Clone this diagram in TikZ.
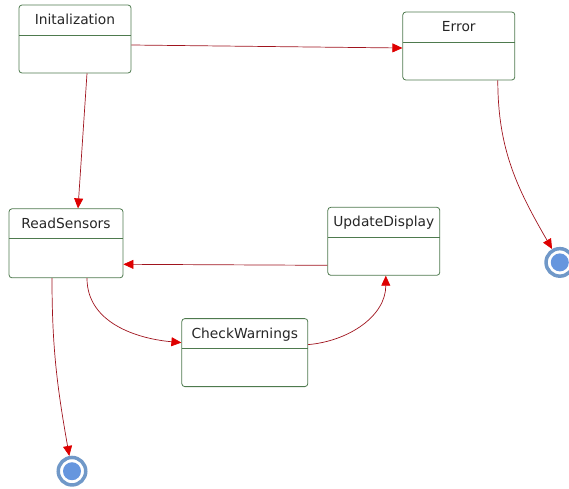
\documentclass[tikz,border=0pt]{standalone}
\usepackage{fontspec}
\setmainfont{DejaVu Sans}
\usetikzlibrary{positioning,arrows.meta}
\definecolor{stategreen}{RGB}{78,122,78}
\definecolor{linered}{RGB}{160,20,30}
\definecolor{tipred}{RGB}{222,0,0}
\definecolor{ringblue}{RGB}{112,152,200}
\definecolor{diskblue}{RGB}{102,150,222}
\tikzset{
	every node/.style={font=\fontsize{13.8}{16}\selectfont, text=black!85},
	my final/.style={circle, draw=ringblue, line width=3.5pt, minimum size=27.5pt, inner sep=0pt,
		path picture={\fill[diskblue] (path picture bounding box.center) circle (9pt);}}, % end state
}

\begin{document}
\begin{tikzpicture}[x=1pt,y=-1pt]
	\useasboundingbox (0,0) rectangle (569,488);
	\tikzset{my state/.style = {rectangle, draw=stategreen, line width=0.8pt, rounded corners=3pt,
			minimum width=112pt, inner ysep=0pt, text height=19.5pt, text depth=48.5pt,
			path picture={\draw[stategreen, line width=0.8pt] ([yshift=-30pt]path picture bounding box.north west) -- ([yshift=-30pt]path picture bounding box.north east);}}}
	\tikzset{my trans/.style = {draw=linered, line width=0.7pt, -{Triangle[length=10pt,width=9pt,color=tipred]}}}
	\node[my state] (init) at (75,39) {Initalization};
	\node[my state] (error) [right=271pt of init, yshift=-7pt] {Error};
	\node[my state, minimum width=114pt, text depth=49.5pt] (read) [below=135pt of init, xshift=-9pt] {ReadSensors};
	\node[my state] (update) [right=204pt of read, yshift=2pt] {UpdateDisplay};
	\node[my state, minimum width=126pt] (check) [below right=40pt and 58pt of read] {CheckWarnings};
	\node[my final] (endR) [below=177.5pt of read, xshift=6pt] {};
	\node[my final] (endE) [below=166.5pt of error, xshift=101pt] {};
	\draw[my trans] ([yshift=-6pt]init.east) -- ([yshift=-2pt]error.west);
	\draw[my trans] ([xshift=12pt]init.south) -- ([xshift=12pt]read.north);
	\draw[my trans] ([xshift=39pt]error.south) to[out=-90,in=120] (endE);
	\draw[my trans] ([yshift=-24pt]update.west) -- ([yshift=-21pt]read.east);
	\draw[my trans] ([xshift=21pt]read.south) to[out=-90,in=175] ([yshift=10pt]check.west);
	\draw[my trans] ([yshift=8pt]check.east) to[out=5,in=-90] ([xshift=2pt]update.south);
	\draw[my trans] ([xshift=-14pt]read.south) to[out=-90,in=100] (endR);
\end{tikzpicture}
\end{document}
